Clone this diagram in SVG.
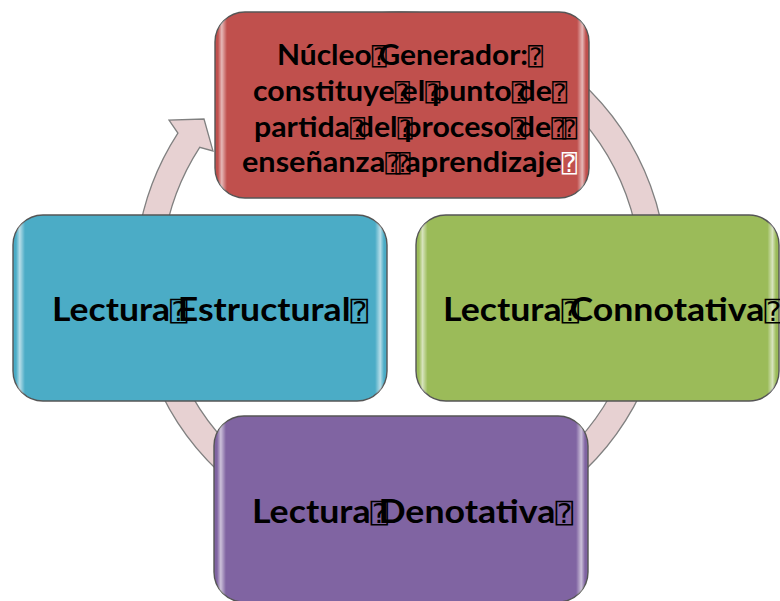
<svg xmlns="http://www.w3.org/2000/svg" width="780" height="601" viewBox="0 0 780 601">
<defs>
<linearGradient id="gloss" x1="0" y1="0" x2="1" y2="0">
<stop offset="0" stop-color="#fff" stop-opacity="0"/>
<stop offset="0.008" stop-color="#fff" stop-opacity="0"/>
<stop offset="0.018" stop-color="#fff" stop-opacity="0.6"/>
<stop offset="0.032" stop-color="#fff" stop-opacity="0"/>
<stop offset="0.968" stop-color="#fff" stop-opacity="0"/>
<stop offset="0.982" stop-color="#fff" stop-opacity="0.6"/>
<stop offset="0.992" stop-color="#fff" stop-opacity="0"/>
<stop offset="1" stop-color="#fff" stop-opacity="0"/>
</linearGradient>
<style>
.ring{fill:#e7d1d2;stroke:#808080;stroke-width:1.3}
.box{stroke:#555;stroke-width:1.4}
.gl{fill:url(#gloss);stroke:none}
.t{font-family:Lato,"Open Sans",sans-serif;font-weight:700;fill:#000}
.q{font-family:"DejaVu Sans Mono","DejaVu Sans",monospace;font-weight:400}
.qs{font-size:24px}
.ql{font-size:27px}
</style>
</defs>
<g id="connectors">
<path class="ring" d="M177.9,133.1 A266,266 0 1 0 354.8,16 L359.3,41.6 A240,240 0 1 1 199.7,147.3 L213,151 L204,119 L169,120 Z"/>
</g>
<g id="nucleo">
<rect class="box" x="215" y="12" width="374" height="186" rx="30" fill="#c0504d"/>
<rect class="gl" x="215" y="12" width="374" height="186" rx="30"/>
<text class="t" font-size="29" x="277" y="65" textLength="266" lengthAdjust="spacingAndGlyphs">Núcleo<tspan class="q qs" letter-spacing="-8">⍰</tspan>Generador:<tspan class="q qs">⍰</tspan></text>
<text class="t" font-size="29" x="253" y="101" textLength="314" lengthAdjust="spacingAndGlyphs">constituye<tspan class="q qs" letter-spacing="-8">⍰</tspan>el<tspan class="q qs" letter-spacing="-8">⍰</tspan>punto<tspan class="q qs" letter-spacing="-8">⍰</tspan>de<tspan class="q qs">⍰</tspan></text>
<text class="t" font-size="29" x="254" y="137" textLength="319" lengthAdjust="spacingAndGlyphs">partida<tspan class="q qs" letter-spacing="-8">⍰</tspan>del<tspan class="q qs" letter-spacing="-8">⍰</tspan>proceso<tspan class="q qs" letter-spacing="-8">⍰</tspan>de<tspan class="q qs" letter-spacing="-4">⍰⍰</tspan></text>
<text class="t" font-size="29" x="242" y="172" textLength="335" lengthAdjust="spacingAndGlyphs">enseñanza<tspan class="q qs" letter-spacing="-5">⍰⍰</tspan>aprendizaje<tspan class="q qs" fill="#fff">⍰</tspan></text>
</g>
<g id="estructural">
<rect class="box" x="13" y="215" width="374" height="186" rx="30" fill="#4bacc6"/>
<rect class="gl" x="13" y="215" width="374" height="186" rx="30"/>
<text class="t" font-size="33" x="52" y="321" textLength="316" lengthAdjust="spacingAndGlyphs">Lectura<tspan class="q ql" letter-spacing="-9">⍰</tspan>Estructural<tspan class="q ql">⍰</tspan></text>
</g>
<g id="connotativa">
<rect class="box" x="416" y="215" width="363" height="186" rx="30" fill="#9bbb59"/>
<rect class="gl" x="416" y="215" width="363" height="186" rx="30"/>
<text class="t" font-size="33" x="443" y="321" textLength="339" lengthAdjust="spacingAndGlyphs">Lectura<tspan class="q ql" letter-spacing="-9">⍰</tspan>Connotativa<tspan class="q ql">⍰</tspan></text>
</g>
<g id="denotativa">
<rect class="box" x="214" y="416" width="374" height="186" rx="30" fill="#8064a2"/>
<rect class="gl" x="214" y="416" width="374" height="186" rx="30"/>
<text class="t" font-size="33" x="252" y="523" textLength="321" lengthAdjust="spacingAndGlyphs">Lectura<tspan class="q ql" letter-spacing="-9">⍰</tspan>Denotativa<tspan class="q ql">⍰</tspan></text>
</g>
</svg>
